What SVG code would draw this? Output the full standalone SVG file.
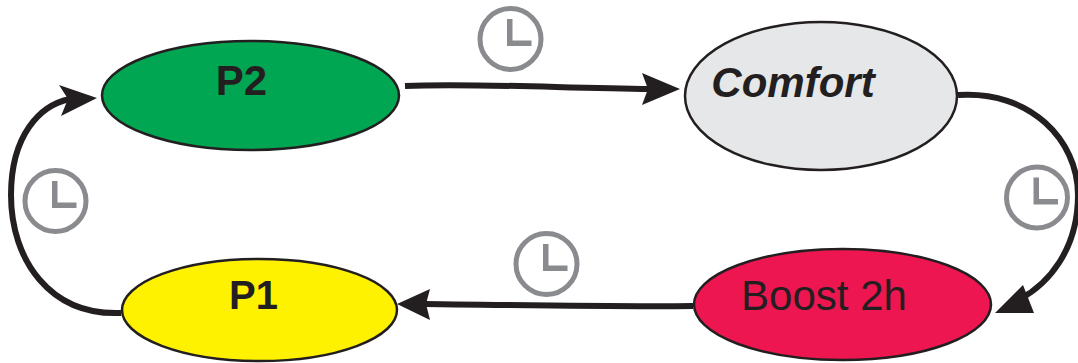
<svg xmlns="http://www.w3.org/2000/svg" width="1078" height="363" viewBox="0 0 1078 363">
<style>
.n{stroke:#231f20;stroke-width:2.500}
.t{font-family:"Liberation Sans",Arial,sans-serif;fill:#231f20;font-size:42px;text-anchor:middle}
.b{font-weight:bold}
.c{fill:none;stroke:#231f20;stroke-width:6}
.h{fill:#231f20}
.k{fill:none;stroke:#8a8b8f;stroke-width:5}
.m{fill:#8a8b8f}
</style>
<defs>
<g id="clock"><circle class="k" r="30.5"/><path class="m" d="M-3.500-20H2V1.500H21V7H-3.500Z"/></g>
</defs>
<g id="connectors">
<path class="c" d="M405 86C470 83 560 88 650 89"/><path class="h" d="M642 73L680 89L642 105L648 89Z"/>
<path class="c" d="M958 95C1030 90 1078 140 1078 195C1078 250 1048 284 1020 299"/><path class="h" d="M1023 285L1034 313L995 313Z"/>
<path class="c" d="M693 306C620 307 510 305 425 304"/><path class="h" d="M430 289L397 304L430 320L426 304Z"/>
<path class="c" d="M121 313C50 316 11 260 11 195C11 135 40 105 70 99"/><path class="h" d="M59 85L97 98L61 116L68 99Z"/>
</g>
<g id="node-p2"><ellipse class="n" cx="250.500" cy="95.500" rx="148.500" ry="54.500" fill="#00a651"/><text class="t b" x="241.500" y="95">P2</text></g>
<g id="node-comfort"><ellipse class="n" cx="821" cy="96" rx="136" ry="74" fill="#e6e7e8"/><text class="t b" x="793" y="97" font-style="italic">Comfort</text></g>
<g id="node-boost"><ellipse class="n" cx="842.500" cy="304.500" rx="148.500" ry="55.500" fill="#ed1651"/><text class="t" x="824" y="310">Boost 2h</text></g>
<g id="node-p1"><ellipse class="n" cx="259.500" cy="310" rx="137.500" ry="51" fill="#fff200"/><text class="t b" x="253.500" y="309" style="font-size:40px">P1</text></g>
<g id="clocks">
<use href="#clock" x="510.500" y="39"/>
<use href="#clock" x="1037" y="197.500"/>
<use href="#clock" x="546.500" y="264"/>
<use href="#clock" x="55.500" y="201"/>
</g>
</svg>
